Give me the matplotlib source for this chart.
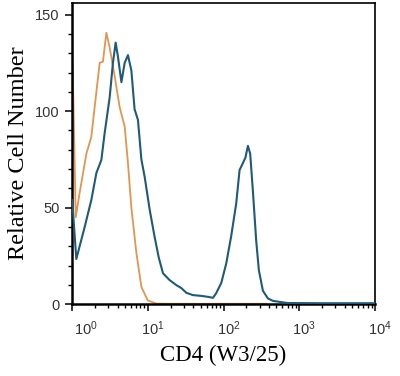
"""Flow cytometry overlay histogram: CD4 (W3/25) staining vs control."""

import matplotlib

matplotlib.use("Agg")
import matplotlib.pyplot as plt
import matplotlib.transforms as mtransforms
import numpy as np
from matplotlib.ticker import FixedLocator, LogLocator, NullFormatter

# control (orange) histogram
ctrl_x = [1.0, 1.12, 1.26, 1.55, 1.80, 1.99, 2.32, 2.56, 2.84, 3.14, 3.66, 4.26,
          4.96, 5.43, 6.08, 7.08, 8.24, 9.97, 13.0, 20.0, 100.0, 370.0]
ctrl_y = [141, 45, 57.6, 78, 86.7, 102, 125, 125.6, 140.6, 133, 118, 102,
          92, 75, 50, 26.5, 9, 2, 0.3, 0.2, 0.2, 0.2]

# CD4 stained (blue) histogram
cd4_x = [1.006, 1.14, 1.47, 1.80, 2.10, 2.44, 2.70, 3.14, 3.47, 3.77, 4.05, 4.49,
         4.96, 5.48, 6.08, 6.70, 7.42, 8.24, 9.10, 10.6, 12.3, 14.0, 15.9, 19.4,
         23.8, 27.8, 32.3, 39.5, 51.0, 62.5, 72.7, 80.1, 93.4, 108.6, 126, 147,
         163, 180, 195, 210, 225, 244, 270, 293, 331, 385, 450, 700, 2000, 10000]
cd4_y = [54, 23.4, 40, 54, 68, 74.7, 88.7, 107, 125, 135.5, 128, 115,
         125, 129, 121, 101, 95.5, 75, 66, 49, 35, 24, 16, 12.5,
         9.9, 8.3, 5.9, 4.7, 4.3, 3.8, 3.3, 5.7, 11, 21, 35, 52,
         69.5, 73, 76, 82, 78, 59, 33, 17.6, 7, 3, 1.7, 0.6, 0.5, 0.5]

x_ticks = [1, 10, 100, 1000, 10000]
x_ticklabels = [r"$\mathregular{10^{%d}}$" % i for i in range(5)]
y_ticks = [0, 50, 100, 150]

ORANGE = "#e39550"
BLUE = "#1f5a78"

plt.rcParams["mathtext.fontset"] = "custom"
plt.rcParams["mathtext.rm"] = "Liberation Sans"

fig = plt.figure(figsize=(4.0, 3.76), dpi=100)
ax = fig.add_axes([0.18, 0.191, 0.7575, 0.801])

ax.plot(ctrl_x, ctrl_y, color=ORANGE, lw=1.3, zorder=2, solid_joinstyle="round")
ax.plot(cd4_x, cd4_y, color=BLUE, lw=1.5, zorder=3, solid_joinstyle="round")

ax.set_xscale("log")
ax.set_xlim(1, 10000)
ax.set_ylim(0, 156)

ax.xaxis.set_major_locator(FixedLocator(x_ticks))
ax.set_xticklabels(x_ticklabels)
ax.xaxis.set_minor_locator(LogLocator(base=10, subs=np.arange(2, 10)))
ax.xaxis.set_minor_formatter(NullFormatter())
ax.yaxis.set_major_locator(FixedLocator(y_ticks))
ax.yaxis.set_minor_locator(FixedLocator(range(0, 151, 10)))

ax.tick_params(axis="both", which="major", direction="out", length=5, width=1.1,
               labelsize=10.5, labelcolor="#333333", pad=4)
ax.tick_params(axis="both", which="minor", direction="out", length=3, width=1.0)
ax.tick_params(axis="x", which="major", pad=6)
for lab in ax.get_xticklabels() + ax.get_yticklabels():
    lab.set_fontfamily("Liberation Sans")

# the decade labels sit a little to the right of their ticks
for i, lab in enumerate(ax.get_xticklabels()):
    dx = 14 if i == 0 else 5
    lab.set_transform(lab.get_transform()
                      + mtransforms.ScaledTranslation(dx / 100, 0, fig.dpi_scale_trans))

for side in ("left", "bottom"):
    ax.spines[side].set_linewidth(1.8)
for side in ("top", "right"):
    ax.spines[side].set_linewidth(1.2)

ax.set_xlabel("CD4 (W3/25)", fontfamily="Liberation Serif", fontsize=16.5, labelpad=5)
ax.set_ylabel("Relative Cell Number", fontfamily="Liberation Serif", fontsize=17.5,
              labelpad=4)

fig.savefig("out.png", dpi=100)
